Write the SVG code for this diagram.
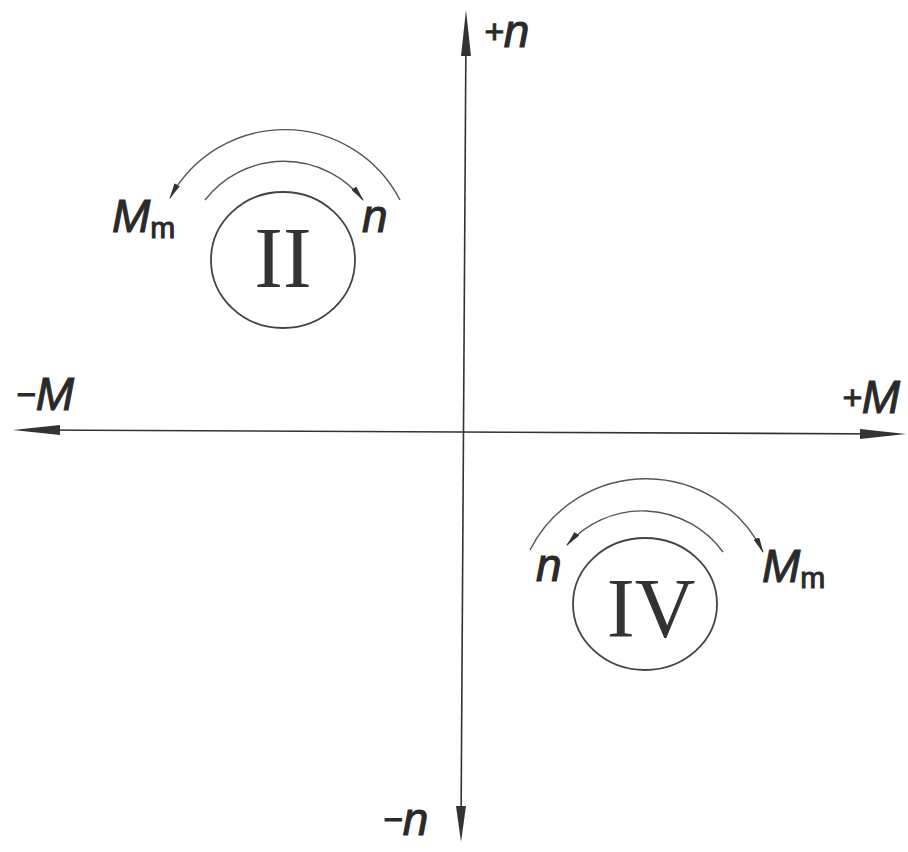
<svg xmlns="http://www.w3.org/2000/svg" width="908" height="852" viewBox="0 0 908 852">
<defs>
<style>
.axis{stroke:#333;stroke-width:1.6;fill:none}
.head{fill:#333;stroke:none}
.arc{stroke:#555;stroke-width:1.4;fill:none}
.ring{stroke:#444;stroke-width:1.8;fill:none}
.lbl{font-family:"Liberation Sans",Arial,sans-serif;font-style:italic;fill:#2a2a2a;stroke:#2a2a2a;stroke-width:1}
.rom{font-family:"Liberation Serif","Times New Roman",serif;fill:#333;text-anchor:middle}
</style>
<marker id="ah" viewBox="0 0 16 6" refX="15" refY="3" markerWidth="16" markerHeight="6" markerUnits="userSpaceOnUse" orient="auto">
<path d="M0,0 L16,3 L0,6 Z" fill="#333"/>
</marker>
</defs>
<rect width="908" height="852" fill="#fff"/>
<g id="connectors">
<line class="axis" x1="466" y1="30" x2="461" y2="830"/>
<polygon class="head" points="466,10 461,56 471,56"/>
<polygon class="head" points="461,842 456,806 466,806"/>
<line class="axis" x1="30" y1="430" x2="890" y2="434"/>
<polygon class="head" points="13,430 60,425 60,435"/>
<polygon class="head" points="906,434 860,429 860,439"/>
<path class="arc" d="M205,200 A100,100 0 0 1 363,200" marker-end="url(#ah)"/>
<path class="arc" d="M400,200 A130,130 0 0 0 170,198" marker-end="url(#ah)"/>
<path class="arc" d="M723,552 A100,100 0 0 0 567,545" marker-end="url(#ah)"/>
<path class="arc" d="M530,550 A130,130 0 0 1 763,552" marker-end="url(#ah)"/>
</g>
<g id="axis-labels">
<text class="lbl" x="484" y="47" font-size="46"><tspan font-size="34" dy="-4">+</tspan><tspan dy="4">n</tspan></text>
<text class="lbl" x="383" y="835" font-size="46"><tspan font-size="34" dy="-4">−</tspan><tspan dy="4">n</tspan></text>
<text class="lbl" x="16" y="410" font-size="46"><tspan font-size="34" dy="-4">−</tspan><tspan dy="4">M</tspan></text>
<text class="lbl" x="842" y="413" font-size="46"><tspan font-size="34" dy="-4">+</tspan><tspan dy="4">M</tspan></text>
</g>
<g id="node-II">
<ellipse class="ring" cx="283" cy="260" rx="72" ry="68"/>
<text class="rom" x="283" y="287" font-size="86">II</text>
<text class="lbl" x="112" y="232" font-size="46">M<tspan font-size="30" font-style="normal" dy="6">m</tspan></text>
<text class="lbl" x="362" y="232" font-size="46">n</text>
</g>
<g id="node-IV">
<ellipse class="ring" cx="645" cy="604" rx="72" ry="66"/>
<text class="rom" x="651" y="637" font-size="84">IV</text>
<text class="lbl" x="536" y="581" font-size="46">n</text>
<text class="lbl" x="762" y="582" font-size="46">M<tspan font-size="30" font-style="normal" dy="6">m</tspan></text>
</g>
</svg>
